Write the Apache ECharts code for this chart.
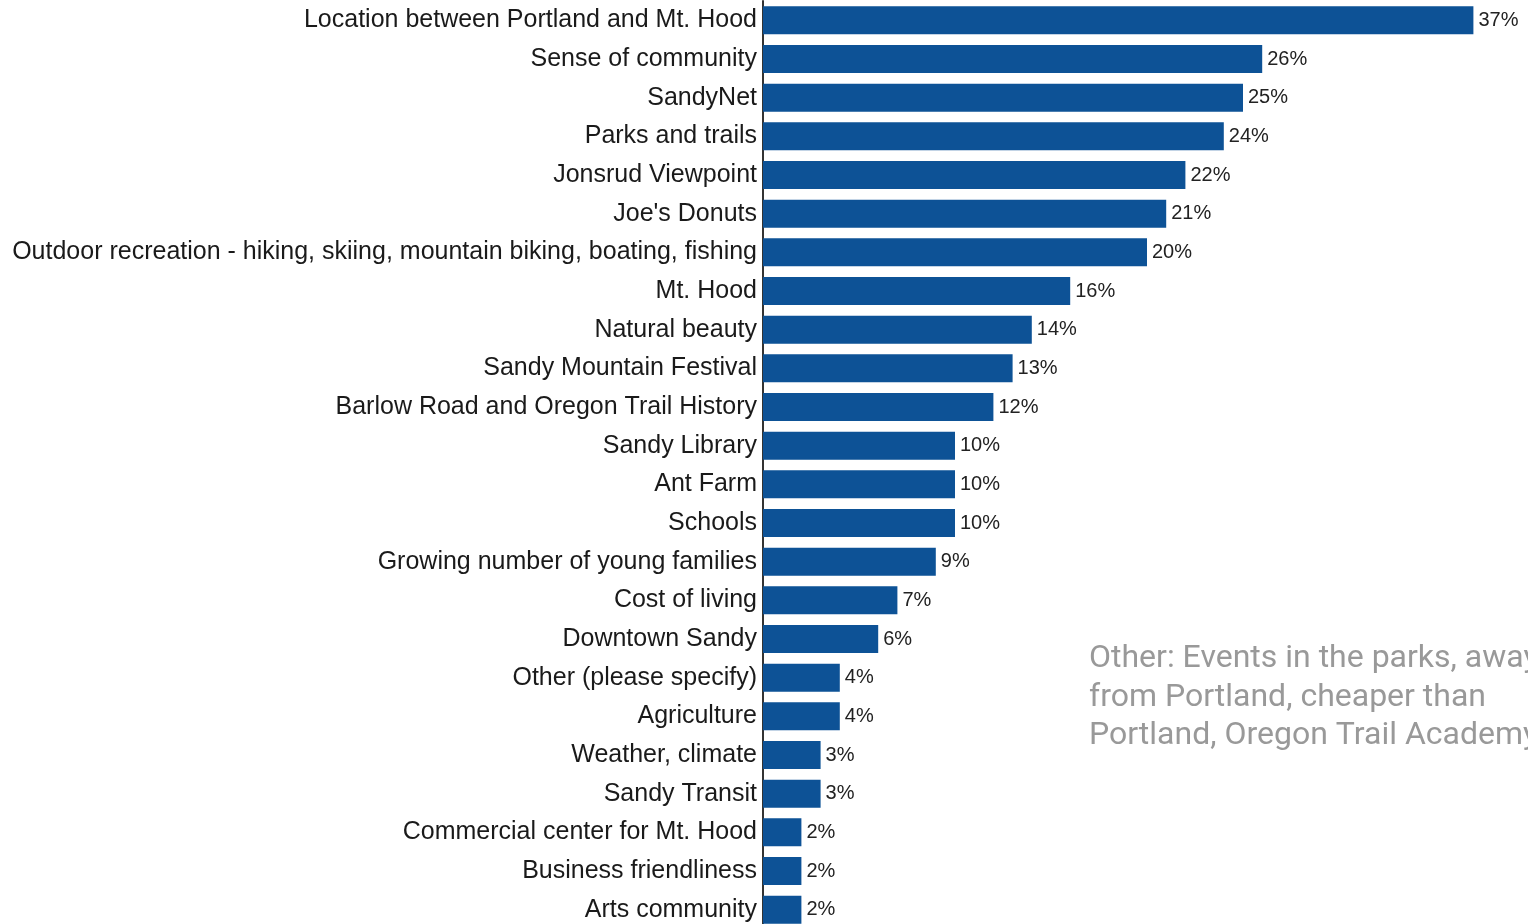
<!DOCTYPE html>
<html>
<head>
<meta charset="utf-8">
<script src="https://cdn.jsdelivr.net/npm/echarts@6/dist/echarts.min.js"></script>
<style>
  html, body { margin: 0; padding: 0; background: #fff; }
  #chart { width: 1528px; height: 924px; }
</style>
</head>
<body>
<div id="chart"></div>
<script>
// Survey answers, listed top to bottom
const categories = [
  "Location between Portland and Mt. Hood",
  "Sense of community",
  "SandyNet",
  "Parks and trails",
  "Jonsrud Viewpoint",
  "Joe's Donuts",
  "Outdoor recreation - hiking, skiing, mountain biking, boating, fishing",
  "Mt. Hood",
  "Natural beauty",
  "Sandy Mountain Festival",
  "Barlow Road and Oregon Trail History",
  "Sandy Library",
  "Ant Farm",
  "Schools",
  "Growing number of young families",
  "Cost of living",
  "Downtown Sandy",
  "Other (please specify)",
  "Agriculture",
  "Weather, climate",
  "Sandy Transit",
  "Commercial center for Mt. Hood",
  "Business friendliness",
  "Arts community"
];
// Share of respondents (%)
const percents = [37, 26, 25, 24, 22, 21, 20, 16, 14, 13, 12, 10, 10, 10, 9, 7, 6, 4, 4, 3, 3, 2, 2, 2];

const noteLines = [
  "Other: Events in the parks, away",
  "from Portland, cheaper than",
  "Portland, Oregon Trail Academy"
];

const chart = echarts.init(document.getElementById('chart'), null, { renderer: 'canvas' });

chart.setOption({
  animation: false,
  backgroundColor: '#ffffff',
  grid: {
    left: 763, top: 1, width: 768, height: 928,
    containLabel: false,
    outerBoundsMode: 'none'
  },
  xAxis: {
    type: 'value', min: 0, max: 40,
    show: false
  },
  yAxis: {
    type: 'category',
    data: categories,
    inverse: true,
    axisLine: { show: true, lineStyle: { color: '#333333', width: 2 } },
    axisTick: { show: false },
    axisLabel: {
      color: '#1a1a1a',
      fontFamily: '"Liberation Sans", Arial, sans-serif',
      fontSize: 25,
      margin: 6,
      padding: [4, 0, 0, 0]
    }
  },
  series: [{
    type: 'bar',
    data: percents,
    barCategoryGap: '27.6%',
    itemStyle: { color: '#0d5296' },
    label: {
      show: true,
      position: 'right',
      distance: 5,
      padding: [3, 0, 0, 0],
      formatter: p => p.value + '%',
      color: '#222222',
      fontFamily: '"Liberation Sans", Arial, sans-serif',
      fontSize: 20
    }
  }],
  graphic: [{
    type: 'text',
    left: 1089,
    top: 640,
    style: {
      text: noteLines.join('\n'),
      fill: '#999999',
      font: '32px Roboto',
      lineHeight: 38.5
    }
  }]
});
</script>
</body>
</html>
